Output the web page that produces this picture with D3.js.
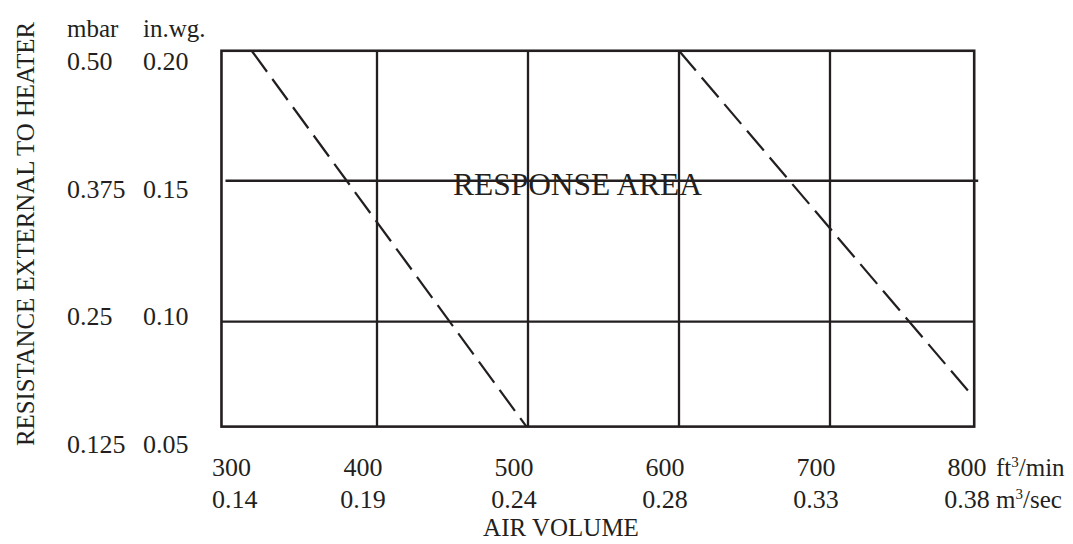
<!DOCTYPE html>
<html lang="en">

<head>
    <meta charset="utf-8">
    <title>Response Area</title>
    <script src="https://d3js.org/d3.v7.min.js"></script>
    <style>
        body { margin: 0; background: #fff; }
        text { font-family: "Liberation Serif", "Times New Roman", serif; fill: #231f20; }
    </style>
</head>

<body>
    <div id="dataviz"></div>
    <script>

        // air volume ticks (ft3/min) and their m3/sec equivalents
        var airFt = [300, 400, 500, 600, 700, 800];
        var airM3 = ["0.14", "0.19", "0.24", "0.28", "0.33", "0.38"];

        // resistance ticks (in.wg.) and mbar equivalents
        var resInwg = [0.20, 0.15, 0.10, 0.05];
        var resInwgLabels = ["0.20", "0.15", "0.10", "0.05"];
        var resMbar = ["0.50", "0.375", "0.25", "0.125"];

        // grid and frame as drawn in the chart
        var gridX = [400, 500, 600, 700];
        var gridY = [0.1535, 0.0983];
        var frameX = [297, 795.5];
        var frameY = [0.0572, 0.2044];

        // dashed boundary lines of the response area
        var lowLine = [[317, 0.2044], [499, 0.0572]];
        var highLine = [[600, 0.2044], [795.5, 0.0684]];

        var width = 1073, height = 544;

        var svg = d3.select("#dataviz")
            .append("svg")
            .attr("width", width)
            .attr("height", height);

        var x = d3.scaleLinear().domain([300, 800]).range([226, 981]);
        var y = d3.scaleLinear().domain([0.05, 0.20]).range([445, 62]);

        var ink = "#231f20";

        // frame
        svg.append("rect")
            .attr("x", x(frameX[0]))
            .attr("y", y(frameY[1]))
            .attr("width", x(frameX[1]) - x(frameX[0]))
            .attr("height", y(frameY[0]) - y(frameY[1]))
            .style("fill", "none")
            .style("stroke", ink)
            .style("stroke-width", 2.6);

        // vertical grid
        svg.selectAll("vgrid")
            .data(gridX)
            .enter()
            .append("line")
            .attr("x1", function (d) { return x(d) })
            .attr("x2", function (d) { return x(d) })
            .attr("y1", y(frameY[1]))
            .attr("y2", y(frameY[0]))
            .style("stroke", ink)
            .style("stroke-width", 2.3);

        // horizontal grid
        svg.selectAll("hgrid")
            .data(gridY)
            .enter()
            .append("line")
            .attr("x1", function (d, i) { return x(frameX[0]) + (i === 0 ? 4 : 0) })
            .attr("x2", function (d, i) { return x(frameX[1]) + (i === 0 ? 4 : 0) })
            .attr("y1", function (d) { return y(d) })
            .attr("y2", function (d) { return y(d) })
            .style("stroke", ink)
            .style("stroke-width", 2.3);

        // dashed lines
        var line = d3.line()
            .x(function (d) { return x(d[0]) })
            .y(function (d) { return y(d[1]) });

        svg.selectAll("dashes")
            .data([lowLine, highLine])
            .enter()
            .append("path")
            .attr("d", function (d) { return line(d) })
            .style("fill", "none")
            .style("stroke", ink)
            .style("stroke-width", 2.2)
            .style("stroke-dasharray", "26,9");

        // x tick labels
        svg.selectAll("xft")
            .data(airFt)
            .enter()
            .append("text")
            .attr("x", function (d, i) { return i === 0 ? 212 : x(d) - 14 })
            .attr("y", 476)
            .attr("text-anchor", function (d, i) { return i === 0 ? "start" : "middle" })
            .style("font-size", "26px")
            .text(function (d) { return d; });

        svg.selectAll("xm3")
            .data(airM3)
            .enter()
            .append("text")
            .attr("x", function (d, i) { return i === 0 ? 212 : x(airFt[i]) - 14 })
            .attr("y", 508)
            .attr("text-anchor", function (d, i) { return i === 0 ? "start" : "middle" })
            .style("font-size", "26px")
            .text(function (d) { return d; });

        var ftUnit = svg.append("text").attr("x", 996).attr("y", 476).style("font-size", "25px");
        ftUnit.append("tspan").text("ft");
        ftUnit.append("tspan").attr("dy", -9).style("font-size", "15px").text("3");
        ftUnit.append("tspan").attr("dy", 9).text("/min");

        var m3Unit = svg.append("text").attr("x", 996).attr("y", 508).style("font-size", "25px");
        m3Unit.append("tspan").text("m");
        m3Unit.append("tspan").attr("dy", -9).style("font-size", "15px").text("3");
        m3Unit.append("tspan").attr("dy", 9).text("/sec");

        svg.append("text")
            .attr("x", 561).attr("y", 536)
            .attr("text-anchor", "middle")
            .style("font-size", "25px")
            .text("AIR VOLUME");

        // y tick labels
        svg.append("text").attr("x", 67).attr("y", 37).style("font-size", "25px").text("mbar");
        svg.append("text").attr("x", 143).attr("y", 37).style("font-size", "25px").text("in.wg.");

        svg.selectAll("ymbar")
            .data(resMbar)
            .enter()
            .append("text")
            .attr("x", 67)
            .attr("y", function (d, i) { return y(resInwg[i]) + 8 })
            .style("font-size", "26px")
            .text(function (d) { return d; });

        svg.selectAll("yinwg")
            .data(resInwgLabels)
            .enter()
            .append("text")
            .attr("x", 143)
            .attr("y", function (d, i) { return y(resInwg[i]) + 8 })
            .style("font-size", "26px")
            .text(function (d) { return d; });

        svg.append("text")
            .attr("transform", "translate(34,234) rotate(-90)")
            .attr("text-anchor", "middle")
            .attr("textLength", 424)
            .attr("lengthAdjust", "spacingAndGlyphs")
            .style("font-size", "26px")
            .text("RESISTANCE EXTERNAL TO HEATER");

        svg.append("text")
            .attr("x", 453).attr("y", 195)
            .attr("textLength", 249)
            .attr("lengthAdjust", "spacingAndGlyphs")
            .style("font-size", "31px")
            .text("RESPONSE AREA");

    </script>
</body>

</html>
